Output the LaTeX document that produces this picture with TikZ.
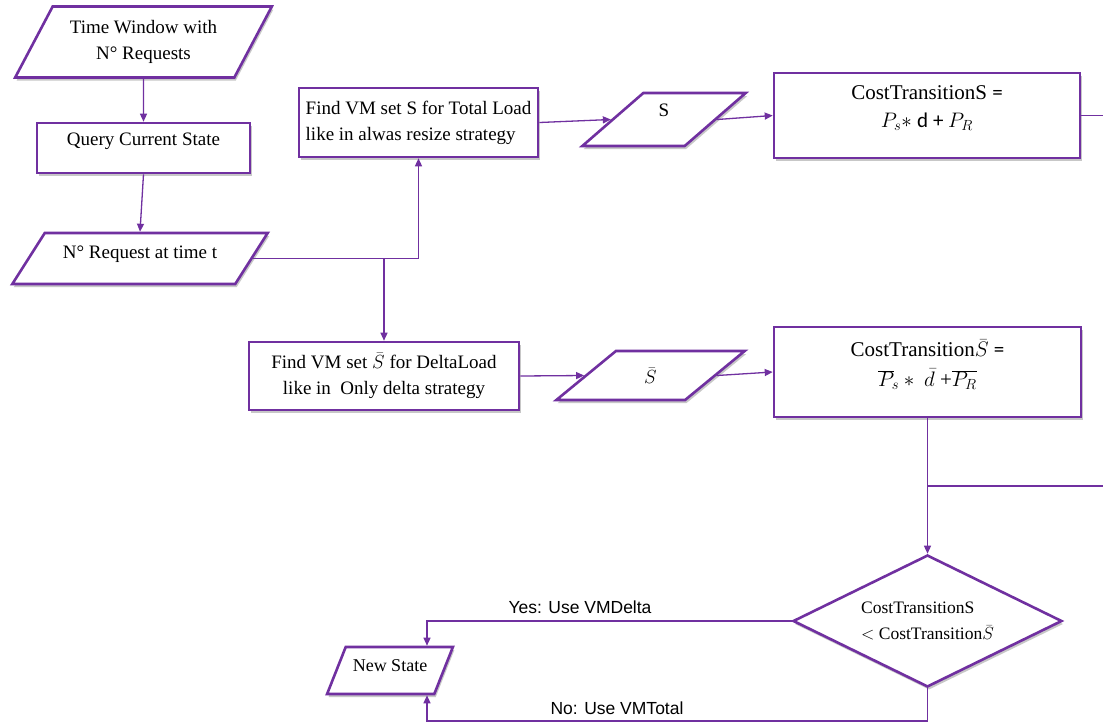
\RequirePackage{fix-cm}
\documentclass[tikz,border=0pt]{standalone}
\usepackage{fontspec}
\setmainfont{Liberation Serif}
\newfontfamily\labelfont{Liberation Sans}
\newfontfamily\calib{Carlito}
\usetikzlibrary{shapes.geometric,shadows,arrows.meta,calc}
\definecolor{vio}{HTML}{7030A0}
\begin{document}
\begin{tikzpicture}[x=1pt,y=-1pt,
  every node/.style={font=\fontsize{19}{26}\selectfont},
  shade/.style={drop shadow={shadow xshift=1.5pt,shadow yshift=-3pt,opacity=.4,fill=black!55}},
  box/.style={rectangle,draw=vio,line width=2.6pt,fill=white,shade,align=center,inner sep=3pt},
  io/.style 2 args={trapezium,trapezium stretches=true,trapezium left angle=#1,
    trapezium right angle=#2,draw=vio,line width=2.6pt,fill=white,shade,align=center,inner sep=2pt},
  dec/.style={diamond,aspect=2.04,draw=vio,line width=2.6pt,fill=white,shade,inner sep=0pt,align=left},
  conn/.style={draw=vio,line width=1.3pt,-{Triangle[length=8pt,width=7pt]}},
  wire/.style={draw=vio,line width=1.3pt},
  lbl/.style={font=\labelfont\fontsize{17.5}{20}\selectfont},
]
\fill[white] (0,0) rectangle (1103,724);
\useasboundingbox (0,0) rectangle (1103,724);

% helper points for routing
\coordinate (rim) at (1103,0);
\coordinate (nsin) at (427,0);
\coordinate (low) at (0,721);
\coordinate (junc) at (0,486);

% left column
\node[io={56.5}{123.5},minimum width=257pt,minimum height=71pt] (tw) at (143.5,42)
  {Time Window with\\N° Requests};
\node[box,minimum width=213pt,minimum height=50pt] (qcs) at (143.5,148) {Query Current State\vphantom{p}\\[-8pt]};
\node[io={46.7}{133.3},minimum width=256pt,minimum height=51pt] (nrt) at (140,258.5)
  {N° Request at time t\\[-14pt]};

% total-load branch
\node[box,minimum width=239pt,minimum height=69pt,align=left] (fs) at (418.5,122.5)
  {Find VM set S for Total Load\\like in alwas resize strategy};
\node[io={58.1}{121.9},minimum width=164pt,minimum height=53pt] (S) at (664,119.5) {S\\[-8pt]};
\node[box,minimum width=306pt,minimum height=85pt,font=\fontsize{21}{28}\selectfont] (cs) at (927,115.5)
  {CostTransitionS {\calib =}\\$P_s \ast$ {\calib d + }$P_R$\\[-10pt]};

% delta-load branch
\node[box,minimum width=270pt,minimum height=68pt] (fsb) at (384,376)
  {Find VM set $\bar{S}$ for DeltaLoad\\like in\ \ Only delta strategy};
\node[io={53.7}{126.3},minimum width=189pt,minimum height=49pt] (Sb) at (650.5,375.5) {$\bar{S}$};
\node[box,minimum width=307pt,minimum height=90pt,font=\fontsize{21}{30}\selectfont] (csb) at (927.5,372)
  {CostTransition$\bar{S}$ {\calib =}\\$\overline{P}_{\!s}\ast\ \bar{d}\ $+$\overline{P_R}$\\[-12pt]};

% decision and result
\node[dec,minimum width=269pt,minimum height=132pt,font=\fontsize{17.5}{26}\selectfont] (dia) at (927.5,621)
  {CostTransitionS\\$<$ CostTransition$\bar{S}$};
\node[io={57.5}{122.5},minimum width=126pt,minimum height=47pt,font=\fontsize{18}{24}\selectfont] (ns) at (390,670.5) {New State\\[-14pt]};

% connectors
\draw[conn] (tw.south) -- (qcs.north);
\draw[conn] (qcs.south) -- (nrt.north);
\draw[conn] (nrt.east) -| (fs.south);
\draw[conn] (nrt.east -| fsb.north) -- (fsb.north);
\draw[conn] (fs.east) -- (S.west);
\draw[conn] (S.east) -- (cs.west);
\draw[wire] (cs.east) -- (cs.east -| rim);
\draw[conn] (fsb.east) -- (Sb.west);
\draw[conn] (Sb.east) -- (csb.west);
\draw[conn] (csb.south) -- (dia.north);
\draw[wire] (csb.south |- junc) -- (junc -| rim);
\draw[conn] (dia.west) -| (nsin |- ns.north);
\draw[conn] (dia.south) -- (dia.south |- low) -| (nsin |- ns.south);

\node[lbl] (yes) at (580,607) {Yes: Use VMDelta};
\node[lbl] (no) at (617,708) {No: Use VMTotal};
\end{tikzpicture}
\end{document}
